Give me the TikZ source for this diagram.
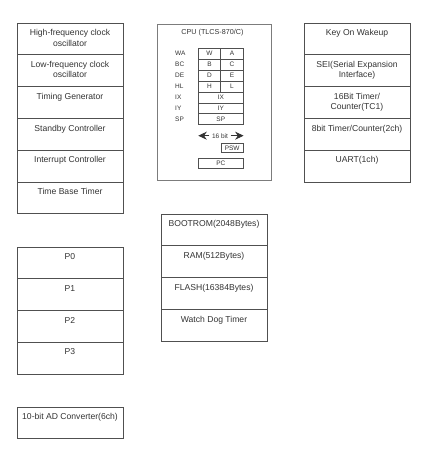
\documentclass[tikz,border=0pt]{standalone}
\usepackage{fontspec}
\setmainfont{Liberation Sans}
\usetikzlibrary{arrows.meta}
\definecolor{ln}{HTML}{505050}
\definecolor{tx}{HTML}{333333}
\tikzset{
  txt/.style={anchor=north, align=center, font=\fontsize{8.6}{10.4}\selectfont, text=tx, inner sep=0pt, yshift=-6.3pt},
  cell/.style={draw=ln, line width=0.65pt, minimum width=106pt, minimum height=31.8pt, anchor=north west, inner sep=0pt, outer sep=0pt, label={[txt]north:#1}},
  cpubox/.style={draw=ln!75, line width=0.8pt, anchor=north west, minimum width=114pt, minimum height=156pt, inner sep=0pt, outer sep=0pt},
  small/.style={font=\fontsize{6.5}{7}\selectfont, text=tx, inner sep=0pt},
  reg/.style={draw=ln, line width=0.6pt, anchor=north west, minimum height=10.9pt, inner sep=0pt, outer sep=0pt, font=\fontsize{6.5}{7}\selectfont, text=tx},
  bigarrow/.style={-{Stealth[length=8.5pt,width=8pt]}, line width=0.8pt, draw=tx},
}
\begin{document}
\begin{tikzpicture}[x=1pt,y=-1pt]
\useasboundingbox (0,0) rectangle (423,452);
% left column
\node[cell={High-frequency clock\\oscillator}] (hf) at (17,23) {};
\node[cell={Low-frequency clock\\oscillator}] (lf) at (17,54.8) {};
\node[cell={Timing Generator}] (tg) at (17,86.6) {};
\node[cell={Standby Controller}] (sc) at (17,118.4) {};
\node[cell={Interrupt Controller}] (ic) at (17,150.2) {};
\node[cell={Time Base Timer}] (tbt) at (17,182) {};
% right column
\node[cell={Key On Wakeup}] (kow) at (304,23) {};
\node[cell={SEI(Serial Expansion\\Interface)}] (sei) at (304,54.8) {};
\node[cell={16Bit Timer/\\Counter(TC1)}] (tc1) at (304,86.6) {};
\node[cell={8bit Timer/Counter(2ch)}] (tc8) at (304,118.4) {};
\node[cell={UART(1ch)}] (uart) at (304,150.2) {};
% CPU
\node[cpubox] (cpu) at (157,24) {};
\node[small, font=\fontsize{7.2}{8}\selectfont] (cput) at (212.5,32.5) {CPU (TLCS-870/C)};
\foreach \lab/\i in {WA/0,BC/1,DE/2,HL/3,IX/4,IY/5,SP/6}{
  \node[small, anchor=west] (l\lab) at (175,{48.3+10.9*\i+5.45}) {\lab};
}
\node[reg, minimum width=22.4pt] (rW) at (198.3,48.3) {W};
\node[reg, minimum width=22.6pt] (rA) at (220.7,48.3) {A};
\node[reg, minimum width=22.4pt] (rB) at (198.3,59.2) {B};
\node[reg, minimum width=22.6pt] (rC) at (220.7,59.2) {C};
\node[reg, minimum width=22.4pt] (rD) at (198.3,70.1) {D};
\node[reg, minimum width=22.6pt] (rE) at (220.7,70.1) {E};
\node[reg, minimum width=22.4pt] (rH) at (198.3,81.0) {H};
\node[reg, minimum width=22.6pt] (rL) at (220.7,81.0) {L};
\node[reg, minimum width=45pt] (rIX) at (198.3,91.9) {IX};
\node[reg, minimum width=45pt] (rIY) at (198.3,102.8) {IY};
\node[reg, minimum width=45pt] (rSP) at (198.3,113.7) {SP};
\node[small, inner sep=2.5pt] (bits) at (220,135.7) {16 bit};
\coordinate (al) at (198.3,135.7);
\coordinate (ar) at (243.6,135.7);
\draw[bigarrow] (bits.west) -- (al);
\draw[bigarrow] (bits.east) -- (ar);
\node[reg, minimum width=22.3pt, minimum height=9pt] (psw) at (221,143.3) {PSW};
\node[reg, minimum width=45pt, minimum height=10pt] (pc) at (198.3,158.3) {PC};
% memory column
\node[cell={BOOTROM(2048Bytes)}] (boot) at (161,214) {};
\node[cell={RAM(512Bytes)}] (ram) at (161,245.8) {};
\node[cell={FLASH(16384Bytes)}] (flash) at (161,277.6) {};
\node[cell={Watch Dog Timer}] (wdt) at (161,309.4) {};
% ports
\node[cell={P0}] (p0) at (17,247) {};
\node[cell={P1}] (p1) at (17,278.8) {};
\node[cell={P2}] (p2) at (17,310.6) {};
\node[cell={P3}] (p3) at (17,342.4) {};
% AD
\node[cell={10-bit AD Converter(6ch)}] (ad) at (17,407) {};
\end{tikzpicture}
\end{document}
